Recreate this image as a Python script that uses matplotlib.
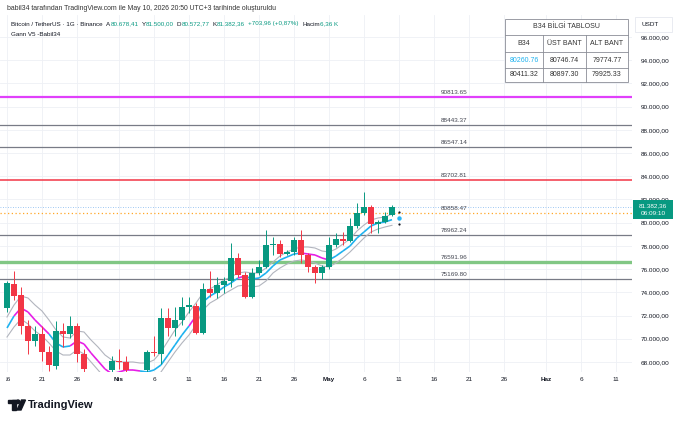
import numpy as np
import pandas as pd
import matplotlib
matplotlib.use("Agg")
import matplotlib.pyplot as plt
import matplotlib.dates as mdates
from matplotlib.patches import Rectangle, Circle, Polygon
from matplotlib.collections import LineCollection
from matplotlib.transforms import Bbox

plt.rcParams['font.family'] = ['Liberation Sans', 'DejaVu Sans']

# daily candles, 16 Mar -> 10 May 2026
dates = pd.date_range('2026-03-16', '2026-05-10', freq='D')
opens = [72650, 74750, 73770, 71140, 69770, 70370, 68820, 67620, 70710, 70370, 71140, 68730, 67000, 66200, 66400, 67310,
         68090, 67960, 66900, 66300, 67310, 68860, 68650, 71830, 70970, 71660, 72780, 72860, 70540, 74320, 73980, 74670,
         75010, 76990, 75530, 73640, 75700, 76220, 78110, 78200, 77330, 77510, 78540, 77250, 76220, 75700,
         76220, 78110, 78620, 78450, 79740, 80860, 81380, 79910, 80090, 80678.41]
highs = [75000, 75870, 74500, 71660, 71060, 71060, 69340, 71490, 71320, 71920, 71320, 69080, 67050, 66800, 67000, 68480,
         69160, 68480, 67050, 66900, 69000, 70200, 72690, 72690, 72780, 73640, 73640, 73040, 74840, 75870, 75360, 75360,
         78280, 77420, 75790, 76130, 76820, 79400, 78800, 78540, 77680, 78800, 79400, 77420, 76390, 76390,
         78800, 79140, 79230, 80430, 81720, 82670, 81550, 80260, 80950, 81500.00]
lows = [72300, 73380, 70370, 68650, 69340, 68050, 67190, 67400, 69250, 70110, 67960, 67000, 65800, 65600, 65900, 66900,
        67360, 66800, 65900, 65800, 66900, 68480, 67790, 70200, 70200, 71230, 72260, 70370, 70370, 73640, 73550, 73980,
        74500, 75360, 73550, 73550, 75530, 76130, 77250, 77080, 77250, 77250, 76560, 75790, 74840, 75190,
        76050, 77940, 78110, 78370, 79570, 80690, 79140, 79140, 80000, 80572.77]
closes = [74800, 73720, 71140, 69770, 70370, 68820, 67700, 70710, 70370, 71140, 68730, 67360, 66200, 66400, 66900, 68090,
          67960, 67310, 66300, 66700, 68860, 68740, 71830, 70970, 71660, 72780, 72950, 70540, 74320, 73980, 74670, 75010,
          76990, 75530, 73640, 75700, 76220, 78110, 78200, 77330, 77510, 78540, 77250, 76220, 75700, 76220,
          78110, 78620, 78450, 79740, 80860, 81380, 79910, 80090, 80600, 81382.36]
change_text = "+703,96 (+0,87%)"
volume_text = "6,36 K"

# Gann V5 band (middle, upper, lower) and its trend state (u = up, d = down)
mid = [70929, 71962, 72651, 72307, 71618, 71015, 70412, 69637, 69292, 69378, 69809, 69550, 68775, 68086, 67397, 66967,
       67139, 67311, 67311, 67225, 67139, 67311, 67742, 68603, 69464, 70326, 71101, 71962, 73168, 73685, 74030, 74461,
       74805, 75236, 75408, 75150, 75236, 75667, 76270, 76787, 77045, 77304, 77390, 77304, 77218, 76959,
       76787, 77131, 77562, 77993, 78682, 79199, 79716, 79974, 80060, 80260.76]
upper = [71876, 72910, 73685, 73513, 72910, 72393, 71618, 70756, 70153, 70066, 70670, 70584, 69895, 69292, 68602, 68172,
         68000, 68000, 68000, 67913, 67913, 68172, 68861, 69809, 70756, 71445, 72307, 73082, 73950, 74300, 74633, 75064,
         75322, 75667, 75753, 75667, 75667, 76097, 76614, 77131, 77476, 77734, 77907, 77907, 77820, 77562,
         77476, 77734, 78165, 78596, 79285, 79802, 80233, 80405, 80491, 80746.74]
lower = [70153, 71015, 71704, 71273, 70670, 70239, 69636, 68947, 68602, 68602, 69033, 68689, 68000, 67310, 66621, 66190,
         66363, 66621, 66621, 66535, 66449, 66621, 67138, 68000, 68861, 69636, 70325, 71187, 72479, 73082, 73427, 73858,
         74202, 74547, 74633, 74461, 74547, 74977, 75667, 76097, 76442, 76700, 76787, 76700, 76528, 76270,
         76184, 76528, 76959, 77476, 78079, 78682, 79199, 79457, 79630, 79774.77]
trend = ("uu" + "ddddd" + "uuu" + "dddddddddd" + "uuuuuuu" + "d" + "uuuuuu" + "d" + "uuuuuuuu"
         + "dddd" + "uuuuuuuuu")

# info table
table_b34 = [80260.76, 80411.32]
table_ust = [80746.74, 80897.30]
table_alt = [79774.77, 79925.33]
next_date = pd.Timestamp('2026-05-11')

levels = [90813.65, 88443.37, 86547.14, 83702.81, 80858.47, 78962.24, 76591.96, 75169.80]
level_colors = ['#e040fb', '#787b86', '#787b86', '#f23645', '#ffa726', '#787b86', '#81c784', '#787b86']
level_widths = [1.6, 0.9, 0.9, 1.1, 0.9, 0.9, 2.4, 0.9]
level_styles = ['-', '-', '-', '-', (0, (1, 2)), '-', '-', '-']

tick_dates = pd.to_datetime(['2026-03-16', '2026-03-21', '2026-03-26', '2026-04-01', '2026-04-06', '2026-04-11',
                             '2026-04-16', '2026-04-21', '2026-04-26', '2026-05-01', '2026-05-06', '2026-05-11',
                             '2026-05-16', '2026-05-21', '2026-05-26', '2026-06-01', '2026-06-06', '2026-06-11'])
tick_labels = ['16', '21', '26', 'Nis', '6', '11', '16', '21', '26', 'May', '6', '11', '16', '21', '26', 'Haz', '6', '11']
price_ticks = list(range(68000, 96001, 2000))

UP, DN = '#089981', '#f23645'
CYAN, MAGENTA = '#1fb2ef', '#e61fe6'
TXT = '#131722'


def tr_num(v):
    return f"{v:,.2f}".replace(',', '#').replace('.', ',').replace('#', '.')


fig = plt.figure(figsize=(6.8, 4.21), dpi=100)
ax = fig.add_axes([0, 1 - 372 / 421, 632 / 680, 357 / 421])
x = mdates.date2num(dates)
x0 = mdates.date2num(pd.Timestamp('2026-03-15'))
ax.set_xlim(x0, x0 + 90.29)
ax.set_ylim(67138, 97893)

ax.set_yticks(price_ticks)
ax.set_yticklabels([tr_num(v) for v in price_ticks])
ax.yaxis.tick_right()
ax.set_xticks(mdates.date2num(tick_dates))
ax.set_xticklabels(tick_labels)
ax.tick_params(axis='y', length=0, pad=6, labelsize=4.6, colors=TXT)
ax.tick_params(axis='x', length=0, pad=3.5, labelsize=4.6, colors=TXT)
for lbl in ax.get_xticklabels():
    if lbl.get_text() in ('Nis', 'May', 'Haz'):
        lbl.set_fontweight('bold')
first = ax.get_xticklabels()[0]
first.set_clip_on(True)
first.set_clip_box(Bbox.from_extents(5.5, 0, 680, 421))
for s in ax.spines.values():
    s.set_visible(False)
ax.grid(color='#eef0f5', lw=0.6)
ax.set_axisbelow(True)

# horizontal levels
for lv, c, w, st in zip(levels, level_colors, level_widths, level_styles):
    ax.axhline(lv, color=c, lw=w, ls=st, zorder=1)
    ax.annotate(f"{lv:.2f}", (mdates.date2num(pd.Timestamp('2026-05-17')), lv), xytext=(0, 1.5),
                textcoords='offset points', fontsize=4.6, color='#434651', va='bottom', ha='left')
ax.axhline(closes[-1], color='#7fb6f0', lw=0.6, ls=(0, (1, 2)), zorder=1)

# bands
ax.plot(x, upper, color='#b2b5be', lw=0.8, zorder=2)
ax.plot(x, lower, color='#b2b5be', lw=0.8, zorder=2)
pts = np.column_stack([x, mid])
segs = np.stack([pts[:-1], pts[1:]], axis=1)
seg_cols = [MAGENTA if t == 'd' else CYAN for t in trend[1:]]
ax.add_collection(LineCollection(segs, colors=seg_cols, linewidths=1.2, zorder=3))
xn = mdates.date2num(next_date)
ax.plot([xn], [table_b34[1]], 'o', color='#29b6f6', ms=3.2, mec='none', zorder=4)
ax.plot([xn, xn], [table_ust[1], table_alt[1]], 'o', color='#131722', ms=1.6, mec='none', zorder=4)

# candles
o = np.array(opens); c = np.array(closes)
cols = np.where(c >= o, UP, DN)
ax.vlines(x, lows, highs, colors=cols, lw=0.7, zorder=4)
ax.bar(x, np.maximum(np.abs(c - o), 60), bottom=np.minimum(o, c), width=0.72, color=cols, zorder=5)

# overlay in pixel coordinates
ov = fig.add_axes([0, 0, 1, 1], zorder=10)
ov.set_xlim(0, 680)
ov.set_ylim(421, 0)
ov.axis('off')
renderer = fig.canvas.get_renderer()

ov.text(7, 8, "babil34 tarafından TradingView.com ile May 10, 2026 20:50 UTC+3 tarihinde oluşturuldu",
        fontsize=4.95, color='#333333', va='center')
legend_parts = [("Bitcoin / TetherUS · 1G · Binance", TXT, 3.5), ("A", TXT, 0.3), (tr_num(opens[-1]), UP, 3),
                ("Y", TXT, 0.3), (tr_num(highs[-1]), UP, 3), ("D", TXT, 0.3), (tr_num(lows[-1]), UP, 3),
                ("K", TXT, 0.3), (tr_num(closes[-1]), UP, 3), (change_text, UP, 3.5),
                ("Hacim", TXT, 0.3), (volume_text, UP, 0)]
px = 11
for s, col, gap in legend_parts:
    t = ov.text(px, 24, s, fontsize=4.5, color=col, va='center')
    px += t.get_window_extent(renderer).width + gap
ov.text(11, 34, "Gann V5 -Babil34", fontsize=4.5, color=TXT, va='center')

# info table
cx = [505, 543, 586, 628]
ry = [19, 35, 52, 68, 82]
ov.add_patch(Rectangle((cx[0], ry[0]), cx[-1] - cx[0], ry[-1] - ry[0], facecolor='white', edgecolor='#8a8d96', lw=0.6))
for yy in ry[1:-1]:
    ov.plot([cx[0], cx[-1]], [yy, yy], color='#8a8d96', lw=0.6)
for xx in cx[1:-1]:
    ov.plot([xx, xx], [ry[1], ry[-1]], color='#8a8d96', lw=0.6)
ov.text((cx[0] + cx[-1]) / 2, (ry[0] + ry[1]) / 2, "B34 BİLGİ TABLOSU", fontsize=5, color='#333333',
        ha='center', va='center')
for i, h in enumerate(["B34", "ÜST BANT", "ALT BANT"]):
    ov.text((cx[i] + cx[i + 1]) / 2, (ry[1] + ry[2]) / 2, h, fontsize=5, color='#333333', ha='center', va='center')
for r in range(2):
    vals = [table_b34[r], table_ust[r], table_alt[r]]
    for i, v in enumerate(vals):
        col = '#1fb2ef' if (r == 0 and i == 0) else '#333333'
        ov.text((cx[i] + cx[i + 1]) / 2, (ry[2 + r] + ry[3 + r]) / 2, f"{v:.2f}", fontsize=5, color=col,
                ha='center', va='center')

# currency box and last price label
ov.add_patch(Rectangle((635, 17), 37, 15, facecolor='white', edgecolor='#e0e3eb', lw=0.5))
ov.text(641, 24.5, "USDT", fontsize=4.6, color=TXT, va='center')
ov.add_patch(Rectangle((633, 200), 40, 19, facecolor='#089981', edgecolor='none'))
ov.text(653, 205.5, tr_num(closes[-1]), fontsize=4.6, color='white', ha='center', va='center')
ov.text(653, 213.5, "06:09:10", fontsize=4.6, color='white', ha='center', va='center')

# TradingView logo
ov.add_patch(Rectangle((8, 400), 7.5, 3.2, color=TXT))
ov.add_patch(Rectangle((11.8, 400), 3.7, 10, color=TXT))
ov.add_patch(Circle((18, 401.8), 1.8, color=TXT))
ov.add_patch(Polygon([[21.5, 400], [25.5, 400], [21, 410], [17, 410]], closed=True, color=TXT))
ov.text(28, 405.5, "TradingView", fontsize=8, fontweight='bold', color=TXT, va='center')

fig.savefig('out.png', dpi=100)
